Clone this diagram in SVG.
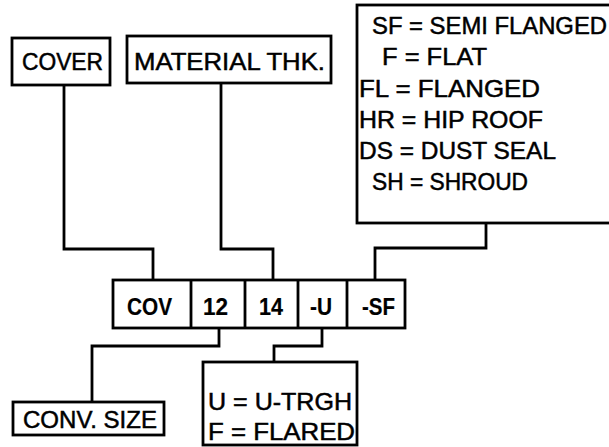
<svg xmlns="http://www.w3.org/2000/svg" width="609" height="447" viewBox="0 0 609 447">
<style>
.box{fill:#fff;stroke:#000;stroke-width:2.8}
.ln{fill:none;stroke:#000;stroke-width:2.8}
text{font-family:"Liberation Sans",Arial,sans-serif;font-size:24px;fill:#000;stroke:#000;stroke-width:0.5}
.b{font-weight:bold;stroke-width:0.2}
</style>
<rect width="609" height="447" fill="#fff"/>
<g id="connectors">
<path class="ln" d="M64,85 V249 H153 V280"/>
<path class="ln" d="M221,83 V249 H273 V280"/>
<path class="ln" d="M486,223 V248 H375 V280"/>
<path class="ln" d="M219,328 V346 H92 V402"/>
<path class="ln" d="M322,328 V346 H274 V362"/>
</g>
<g id="cover"><rect class="box" x="12" y="38" width="98" height="47"/><text x="22" y="70" textLength="81" lengthAdjust="spacingAndGlyphs">COVER</text></g>
<g id="material"><rect class="box" x="127" y="36" width="204" height="47"/><text x="134" y="70" textLength="191" lengthAdjust="spacingAndGlyphs">MATERIAL THK.</text></g>
<g id="types"><rect class="box" x="357" y="5" width="260" height="218"/>
<text x="372" y="34" textLength="235" lengthAdjust="spacingAndGlyphs">SF = SEMI FLANGED</text>
<text x="382" y="65" textLength="105" lengthAdjust="spacingAndGlyphs">F = FLAT</text>
<text x="359" y="97" textLength="181" lengthAdjust="spacingAndGlyphs">FL = FLANGED</text>
<text x="359" y="128" textLength="184" lengthAdjust="spacingAndGlyphs">HR = HIP ROOF</text>
<text x="359" y="159" textLength="197" lengthAdjust="spacingAndGlyphs">DS = DUST SEAL</text>
<text x="372" y="190" textLength="156" lengthAdjust="spacingAndGlyphs">SH = SHROUD</text>
</g>
<g id="code">
<rect class="box" x="113" y="280" width="292" height="48"/>
<path class="ln" d="M191,280V328M245,280V328M298,280V328M347,280V328"/>
<text class="b" x="127" y="315" textLength="45" lengthAdjust="spacingAndGlyphs">COV</text>
<text class="b" x="203" y="315" textLength="25" lengthAdjust="spacingAndGlyphs">12</text>
<text class="b" x="259" y="315" textLength="24" lengthAdjust="spacingAndGlyphs">14</text>
<text class="b" x="310" y="315" textLength="22" lengthAdjust="spacingAndGlyphs">-U</text>
<text class="b" x="362" y="315" textLength="33" lengthAdjust="spacingAndGlyphs">-SF</text>
</g>
<g id="convsize"><rect class="box" x="13" y="402" width="151" height="33"/><text x="23" y="428" textLength="134" lengthAdjust="spacingAndGlyphs">CONV. SIZE</text></g>
<g id="trough"><rect class="box" x="203" y="362" width="154" height="83"/>
<text x="208" y="410" textLength="144" lengthAdjust="spacingAndGlyphs">U = U-TRGH</text>
<text x="208" y="440" textLength="147" lengthAdjust="spacingAndGlyphs">F = FLARED</text>
</g>
</svg>
